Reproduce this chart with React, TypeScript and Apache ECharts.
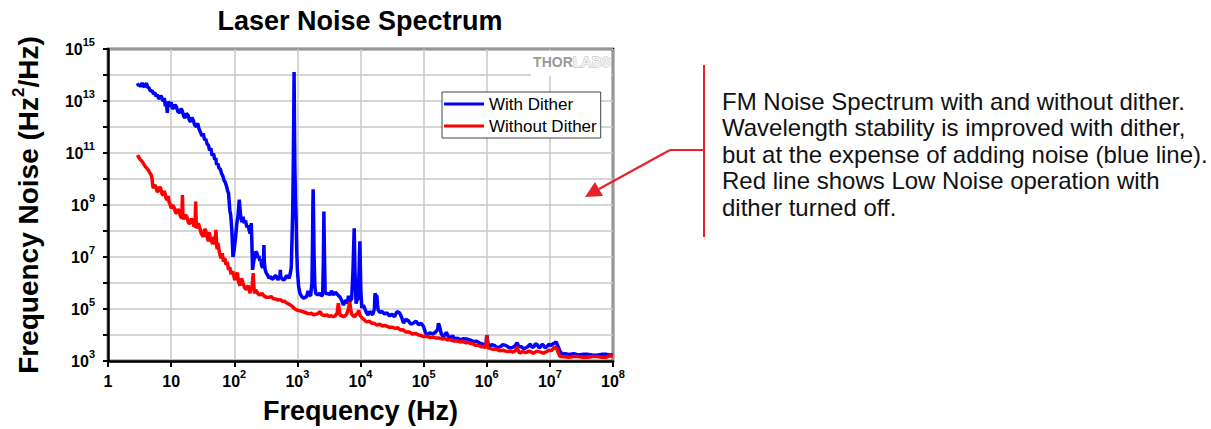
import { useEffect, useRef } from 'react';
import * as echarts from 'echarts';

const FONT = '"Liberation Sans", Arial, sans-serif';

const titleText = 'Laser Noise Spectrum';
const xAxisTitle = 'Frequency (Hz)';
const yAxisTitleParts = ['Frequency Noise (Hz', '2', '/Hz)'];
const seriesNames = ['With Dither', 'Without Dither'];
const seriesColors = ['#0000ff', '#ff0000'];
const logoParts = ['THOR', 'LABS'];
const noteLines = [
  'FM Noise Spectrum with and without dither.',
  'Wavelength stability is improved with dither,',
  'but at the expense of adding noise (blue line).',
  'Red line shows Low Noise operation with',
  'dither turned off.',
];

// [frequency (Hz), noise (Hz^2/Hz)]
const withDither: [number, number][] = [
  [2.92, 4.8e13], [3.05, 3.9e13], [3.16, 4.2e13], [3.3, 3.6e13], [3.47, 5.0e13], [3.6, 3.9e13], [3.8, 3.5e13],
  [3.95, 4.3e13], [4.07, 4.8e13], [4.25, 3.4e13], [4.47, 3.2e13], [4.7, 2.4e13], [5.0, 2.5e13], [5.25, 1.9e13],
  [5.56, 2.0e13], [5.8, 1.5e13], [6.0, 1.8e13], [6.3, 1.3e13], [6.6, 1.26e13], [6.85, 1.6e13], [7.1, 1.4e13],
  [7.3, 1.1e13], [7.5, 1.0e13], [7.8, 1.3e13], [8.1, 6.3e12], [8.4, 8.5e12], [8.7, 3.5e12], [9.0, 9.5e12],
  [9.3, 8.0e12], [9.7, 6.2e12], [10, 9.0e12], [10.5, 5.0e12], [11, 5.6e12], [11.5, 7.2e12], [12, 6.3e12],
  [12.8, 3.9e12], [13.8, 3.5e12], [14.4, 5.2e12], [15.1, 4.0e12], [15.8, 2.6e12], [16.6, 2.2e12], [17.5, 3.3e12],
  [18.6, 2.8e12], [19.5, 1.8e12], [20.4, 1.6e12], [21.4, 2.3e12], [22.4, 1.8e12], [23.6, 1.2e12], [25.1, 1.0e12],
  [26.3, 1.4e12], [27.5, 8.9e11], [29, 6.5e11], [30.9, 4.5e11], [32.3, 5.6e11], [33.9, 3.2e11], [35.5, 3.4e11],
  [37.2, 2.2e11], [39, 2.0e11], [40.7, 1.26e11], [42.5, 1.5e11], [44.7, 7.9e10], [47, 9.5e10], [49, 5.6e10],
  [51, 6.5e10], [52.5, 3.5e10], [55, 4.0e10], [57.5, 2.5e10], [60, 2.5e10], [63, 1.6e10], [66, 1.3e10],
  [69, 8.9e9], [72, 7.5e9], [75.9, 5.0e9], [78.5, 3.5e9], [81.3, 2.8e9], [85, 6.3e8], [88, 4.0e8],
  [91.2, 1.26e8], [95.5, 1.0e7], [100, 2.0e7], [105, 6.0e7], [110, 2.0e8], [115, 4.0e8], [120, 1.6e9],
  [126, 4.0e8], [132, 2.2e8], [138, 3.5e8], [144, 2.0e8], [151, 2.5e8], [158, 1.4e8], [166, 1.6e8],
  [172, 1.1e8], [178, 8.0e7], [182, 1.2e8], [186, 2.0e8], [190, 4.0e7], [195, 3.2e6], [202, 6.0e6],
  [209, 1.0e7], [219, 1.6e7], [229, 1.4e7], [237, 9.0e6], [245, 1.1e7], [254, 7.0e6], [263, 8.0e6],
  [272, 4.5e6], [282, 4.0e6], [290, 6.0e6], [295, 2.9e7], [300, 6.0e6], [309, 3.2e6], [322, 2.4e6],
  [339, 2.0e6], [355, 1.5e6], [372, 1.8e6], [395, 1.4e6], [417, 1.5e6], [440, 1.9e6], [468, 1.8e6],
  [490, 1.3e6], [513, 1.6e6], [527, 1.5e6], [537, 3.2e6], [548, 1.4e6], [562, 1.6e6], [595, 1.3e6],
  [631, 1.4e6], [670, 1.9e6], [708, 1.8e6], [740, 1.5e6], [776, 2.5e6], [800, 4.0e6], [822, 4.5e7],
  [845, 8.0e8], [861, 3.2e10], [875, 2.0e12], [887, 1.3e14], [898, 2.0e12], [912, 3.2e10], [930, 2.5e9],
  [955, 3.2e8], [975, 2.0e7], [1000, 3.2e6], [1047, 7.2e5], [1100, 4.0e5], [1175, 3.0e5], [1250, 2.6e5],
  [1318, 2.8e5], [1400, 3.0e5], [1479, 5.0e5], [1550, 3.5e5], [1622, 3.2e5], [1700, 1.0e6], [1738, 3.2e7],
  [1760, 1.0e9], [1778, 4.0e9], [1800, 6.0e8], [1841, 1.0e7], [1890, 8.0e5], [1950, 4.0e5], [2100, 3.5e5],
  [2291, 4.0e5], [2400, 3.2e5], [2512, 3.5e5], [2580, 6.0e6], [2630, 5.6e8], [2690, 1.0e7], [2754, 4.5e5],
  [2900, 3.8e5], [3090, 4.0e5], [3300, 3.5e5], [3467, 5.0e5], [3650, 4.0e5], [3802, 3.5e5], [4000, 4.5e5],
  [4169, 4.0e5], [4500, 3.2e5], [4786, 2.8e5], [5100, 2.0e5], [5370, 1.4e5], [5600, 1.8e5], [5888, 2.2e5],
  [6150, 1.6e5], [6457, 3.2e5], [6850, 2.0e5], [7244, 2.5e5], [7600, 3.0e6], [7943, 1.26e8], [8200, 2.0e6],
  [8511, 1.6e5], [8800, 2.2e5], [9120, 2.5e5], [9450, 2.0e6], [9772, 4.0e7], [10100, 6.0e5], [10470, 1.1e5],
  [11100, 1.4e5], [11750, 1.0e5], [12500, 7.0e4], [13180, 5.9e4], [14000, 8.0e4], [14790, 7.0e4], [15600, 6.0e4],
  [16600, 1.0e5], [16980, 4.0e5], [17500, 3.2e5], [18200, 3.2e5], [18600, 1.5e5], [19050, 9.0e4], [20300, 7.5e4],
  [21880, 8.0e4], [24000, 6.5e4], [26300, 7.0e4], [28700, 5.5e4], [31600, 6.3e4], [34500, 5.0e4], [38000, 8.0e4],
  [41700, 7.0e4], [44500, 5.0e4], [47900, 2.9e4], [52000, 4.0e4], [57500, 3.5e4], [63000, 2.6e4], [69200, 2.9e4],
  [76000, 3.4e4], [83200, 2.5e4], [91000, 2.8e4], [100000, 2.1e4], [106000, 1.3e4], [112200, 1.0e4], [125000, 1.2e4],
  [141000, 1.1e4], [155000, 1.3e4], [166000, 1.6e4], [172000, 2.8e4], [178000, 2.2e4], [184000, 1.6e4], [190500, 1.1e4],
  [204000, 8.7e3], [215000, 1.0e4], [229000, 1.26e4], [245000, 9.0e3], [263000, 8.0e3], [290000, 9.0e3], [316000, 7.0e3],
  [345000, 7.5e3], [380000, 6.5e3], [425000, 7.2e3], [479000, 7.0e3], [540000, 6.5e3], [617000, 5.6e3], [690000, 5.8e3],
  [759000, 5.0e3], [840000, 4.6e3], [933000, 4.0e3], [980000, 5.0e3], [1.0e6, 1.0e4], [1.03e6, 6.0e3], [1.07e6, 3.5e3],
  [1.2e6, 4.2e3], [1.32e6, 4.0e3], [1.45e6, 3.3e3], [1.62e6, 3.5e3], [1.8e6, 4.2e3], [2.0e6, 4.0e3], [2.25e6, 3.3e3],
  [2.5e6, 3.2e3], [2.8e6, 3.8e3], [3.02e6, 5.0e3], [3.25e6, 3.6e3], [3.55e6, 3.5e3], [3.85e6, 3.0e3], [4.17e6, 3.2e3],
  [4.5e6, 3.6e3], [4.9e6, 4.5e3], [5.2e6, 3.4e3], [5.6e6, 3.5e3], [5.9e6, 4.6e3], [6.3e6, 4.2e3], [6.7e6, 3.3e3],
  [7.1e6, 3.5e3], [7.5e6, 4.4e3], [7.9e6, 4.0e3], [8.4e6, 3.2e3], [8.9e6, 3.5e3], [9.6e6, 4.3e3], [1.05e7, 4.0e3],
  [1.12e7, 4.6e3], [1.2e7, 5.0e3], [1.26e7, 5.4e3], [1.32e7, 4.0e3], [1.38e7, 3.2e3], [1.45e7, 2.3e3], [1.58e7, 1.86e3],
  [1.75e7, 1.9e3], [2.0e7, 1.8e3], [2.4e7, 1.9e3], [2.8e7, 1.7e3], [3.3e7, 1.8e3], [4.0e7, 1.8e3], [4.7e7, 1.7e3],
  [5.6e7, 1.66e3], [6.6e7, 1.8e3], [7.9e7, 1.8e3], [9.0e7, 1.7e3], [1.0e8, 1.7e3],
];

const withoutDither: [number, number][] = [
  [2.92, 8.3e10], [3.05, 7.0e10], [3.24, 5.6e10], [3.4, 5.0e10], [3.63, 4.0e10], [3.9, 3.0e10], [4.17, 2.5e10],
  [4.4, 2.1e10], [4.64, 1.66e10], [4.85, 1.4e10], [5.0, 1.0e10], [5.1, 5.5e9], [5.25, 4.4e9], [5.5, 6.0e9],
  [5.75, 5.0e9], [6.0, 3.2e9], [6.3, 3.5e9], [6.6, 5.0e9], [6.9, 4.0e9], [7.2, 2.6e9], [7.5, 2.4e9],
  [7.8, 3.5e9], [8.1, 2.5e9], [8.4, 1.7e9], [8.7, 1.6e9], [9.0, 2.2e9], [9.3, 1.26e9], [9.6, 1.1e9],
  [10, 7.4e8], [10.6, 1.0e9], [11.2, 7.9e8], [11.7, 5.2e8], [12.3, 4.8e8], [12.9, 7.0e8], [13.5, 5.6e8],
  [14.1, 3.5e8], [14.8, 3.2e8], [15.1, 2.4e9], [15.4, 4.0e8], [15.8, 2.8e8], [16.8, 4.2e8], [17.8, 3.5e8],
  [18.9, 2.0e8], [20, 2.0e8], [21, 3.0e8], [21.9, 2.5e8], [23, 1.5e8], [24, 1.6e8], [24.5, 1.35e9],
  [25, 2.0e8], [25.7, 1.26e8], [27, 2.0e8], [28.2, 1.4e8], [30, 8.0e7], [32.4, 6.0e7], [34, 1.2e8],
  [35.5, 1.0e8], [37, 6.0e7], [38.9, 4.0e7], [40.2, 9.0e7], [41.7, 5.0e7], [43.5, 4.0e7], [45.7, 3.2e7],
  [47.5, 6.0e7], [49.5, 3.0e7], [51.3, 1.1e8], [52.5, 3.0e7], [53.7, 2.0e7], [55, 3.5e7], [56.2, 2.5e7],
  [59, 1.3e7], [61.7, 9.0e6], [64.5, 1.4e7], [67.6, 6.6e6], [71, 9.0e6], [74.1, 5.0e6], [77.5, 6.5e6],
  [81.3, 3.2e6], [85, 4.0e6], [89.1, 2.2e6], [95, 2.8e6], [102, 1.3e6], [107, 2.0e6], [112, 2.5e6],
  [117, 1.1e6], [123, 8.0e5], [130, 1.5e6], [138, 1.0e6], [146, 6.5e5], [155, 5.6e5], [165, 8.0e5],
  [178, 4.0e5], [184, 7.0e5], [190, 6.3e5], [195, 1.2e6], [200, 2.4e6], [204, 8.0e5], [209, 4.0e5],
  [219, 5.5e5], [229, 4.5e5], [243, 3.6e5], [257, 3.5e5], [275, 4.0e5], [295, 3.2e5], [325, 2.8e5],
  [355, 2.8e5], [385, 3.0e5], [417, 2.5e5], [460, 2.4e5], [501, 2.2e5], [540, 2.3e5], [575, 2.0e5],
  [625, 2.0e5], [676, 1.7e5], [750, 1.5e5], [832, 1.26e5], [915, 1.0e5], [1000, 9.0e4], [1100, 8.5e4],
  [1202, 8.0e4], [1300, 7.5e4], [1413, 7.0e4], [1530, 6.5e4], [1660, 7.0e4], [1800, 6.0e4], [1950, 6.3e4],
  [2100, 6.5e4], [2291, 8.0e4], [2450, 6.0e4], [2692, 5.6e4], [2900, 6.0e4], [3162, 5.2e4], [3450, 5.5e4],
  [3715, 5.0e4], [4000, 5.5e4], [4266, 7.0e4], [4400, 1.3e5], [4467, 1.66e5], [4600, 9.0e4], [4786, 5.6e4],
  [5100, 5.5e4], [5370, 5.0e4], [5700, 5.5e4], [6026, 6.3e4], [6400, 1.0e5], [6761, 1.8e5], [7000, 1.0e5],
  [7244, 6.3e4], [7700, 5.5e4], [8128, 5.0e4], [8500, 6.5e4], [8913, 6.3e4], [9333, 9.0e4], [9700, 6.0e4],
  [10000, 5.4e4], [10600, 4.5e4], [11220, 4.0e4], [11900, 3.5e4], [12590, 3.2e4], [13800, 3.4e4], [15140, 2.8e4],
  [16600, 2.8e4], [18200, 2.4e4], [20200, 2.6e4], [22390, 2.2e4], [25000, 2.3e4], [28180, 2.0e4], [31600, 2.0e4],
  [35480, 1.8e4], [39000, 1.9e4], [42660, 1.55e4], [47000, 1.6e4], [52480, 1.3e4], [59000, 1.3e4], [66070, 1.1e4],
  [74000, 1.15e4], [83180, 1.0e4], [91000, 9.5e3], [100000, 8.7e3], [112000, 9.0e3], [126000, 8.0e3], [141000, 8.3e3],
  [158000, 7.6e3], [178000, 7.6e3], [200000, 7.0e3], [216000, 7.3e3], [234000, 6.5e3], [262000, 6.5e3], [295000, 5.9e3],
  [335000, 6.0e3], [380000, 5.4e3], [420000, 5.6e3], [468000, 5.0e3], [510000, 5.2e3], [550000, 4.8e3], [600000, 4.6e3],
  [660000, 4.0e3], [740000, 4.0e3], [830000, 3.5e3], [900000, 3.6e3], [950000, 3.2e3], [980000, 4.5e3], [1.0e6, 1.0e4],
  [1.02e6, 5.0e3], [1.05e6, 3.2e3], [1.15e6, 3.0e3], [1.26e6, 2.8e3], [1.42e6, 2.9e3], [1.58e6, 2.5e3], [1.8e6, 2.6e3],
  [2.09e6, 2.3e3], [2.35e6, 2.4e3], [2.63e6, 2.2e3], [2.85e6, 2.5e3], [3.02e6, 3.5e3], [3.15e6, 2.6e3], [3.3e6, 2.0e3],
  [3.7e6, 2.3e3], [4.17e6, 2.1e3], [4.7e6, 2.4e3], [5.5e6, 2.0e3], [6.2e6, 2.4e3], [7.1e6, 2.2e3], [7.9e6, 2.0e3],
  [8.9e6, 2.3e3], [9.7e6, 2.6e3], [1.05e7, 2.5e3], [1.12e7, 2.9e3], [1.2e7, 3.5e3], [1.26e7, 3.2e3], [1.32e7, 2.5e3],
  [1.38e7, 1.9e3], [1.45e7, 1.5e3], [1.7e7, 1.45e3], [2.0e7, 1.4e3], [2.4e7, 1.5e3], [2.8e7, 1.5e3], [3.3e7, 1.4e3],
  [4.0e7, 1.4e3], [4.7e7, 1.5e3], [5.6e7, 1.5e3], [6.6e7, 1.4e3], [7.9e7, 1.4e3], [9.0e7, 1.6e3], [1.0e8, 1.5e3],
];

const xMin = 1;
const xMax = 1e8;
const yMin = 1e3;
const yMax = 1e15;

function powLabel(value: number): string {
  const e = Math.round(Math.log10(value));
  if (e === 0) return '{b|1}';
  if (e === 1) return '{b|10}';
  return '{b|10}{s|' + e + '}';
}

const labelRich = {
  b: { fontSize: 16, fontWeight: 'bold', fontFamily: FONT, color: '#000', lineHeight: 26 },
  s: { fontSize: 11, fontWeight: 'bold', fontFamily: FONT, color: '#000', lineHeight: 11, verticalAlign: 'top' },
};

export default function App() {
  const ref = useRef<HTMLDivElement>(null);
  useEffect(() => {
    if (!ref.current) return;
    const chart = echarts.init(ref.current, null, { renderer: 'svg' });
    chart.setOption({
      animation: false,
      backgroundColor: '#fff',
      title: {
        text: titleText,
        left: 360,
        top: 7,
        textAlign: 'center',
        padding: 0,
        textStyle: { fontSize: 27, fontWeight: 'bold', fontFamily: FONT, color: '#000' },
      },
      grid: {
        left: 108, right: 598, top: 49, bottom: 68,
        show: true, borderColor: '#000', borderWidth: 2.5, backgroundColor: 'transparent',
      },
      legend: {
        data: seriesNames,
        orient: 'vertical',
        left: 442,
        top: 92,
        icon: 'rect',
        itemWidth: 40,
        itemHeight: 3,
        itemGap: 4,
        padding: [3, 4, 3, 2],
        borderColor: '#444',
        borderWidth: 1,
        borderRadius: 0,
        backgroundColor: '#fff',
        textStyle: { fontSize: 17, fontFamily: FONT, color: '#000', lineHeight: 18 },
      },
      xAxis: {
        type: 'log',
        logBase: 10,
        min: xMin,
        max: xMax,
        splitNumber: 8,
        name: xAxisTitle,
        nameLocation: 'middle',
        nameGap: 36,
        nameTextStyle: { fontSize: 27, fontWeight: 'bold', fontFamily: FONT, color: '#000' },
        axisLine: { lineStyle: { color: '#000', width: 2.5 } },
        axisTick: { show: true, length: 6, lineStyle: { color: '#000', width: 2 } },
        minorTick: { show: false },
        axisLabel: { margin: 7, formatter: (v: number) => powLabel(v), rich: labelRich },
        splitLine: { show: true, lineStyle: { color: '#c8c8c8', width: 1.5 } },
      },
      yAxis: {
        type: 'log',
        logBase: 10,
        min: yMin,
        max: yMax,
        interval: 1,
        axisLine: { show: true, lineStyle: { color: '#000', width: 2.5 } },
        axisTick: { show: true, length: 5, lineStyle: { color: '#000', width: 2 } },
        axisLabel: {
          margin: 13,
          formatter: (v: number) => {
            const e = Math.round(Math.log10(v));
            return e % 2 === 1 ? powLabel(v) : '';
          },
          rich: labelRich,
        },
        splitLine: { show: true, lineStyle: { color: '#c8c8c8', width: 1.5 } },
      },
      series: [
        {
          name: seriesNames[0], type: 'line', data: withDither, symbol: 'none',
          lineStyle: { color: seriesColors[0], width: 3.5 }, itemStyle: { color: seriesColors[0] }, z: 3,
        },
        {
          name: seriesNames[1], type: 'line', data: withoutDither, symbol: 'none',
          lineStyle: { color: seriesColors[1], width: 3.5 }, itemStyle: { color: seriesColors[1] }, z: 4,
        },
      ],
      graphic: [
        {
          type: 'text', x: 28, y: 205, rotation: Math.PI / 2, z: 10,
          style: {
            text: '{a|' + yAxisTitleParts[0] + '}{s|' + yAxisTitleParts[1] + '}{a|' + yAxisTitleParts[2] + '}',
            align: 'center', verticalAlign: 'middle',
            rich: {
              a: { fontSize: 28, fontWeight: 'bold', fontFamily: FONT, fill: '#000', lineHeight: 36 },
              s: { fontSize: 17, fontWeight: 'bold', fontFamily: FONT, fill: '#000', lineHeight: 17, verticalAlign: 'top' },
            },
          },
        },
        { type: 'rect', z: 10, shape: { x: 531, y: 51, width: 80, height: 25 }, style: { fill: '#fff' } },
        {
          type: 'text', x: 572, y: 62, z: 11,
          style: {
            text: '{a|' + logoParts[0] + '}{b|' + logoParts[1] + '}',
            align: 'center', verticalAlign: 'middle',
            rich: {
              a: { fontSize: 14, fontWeight: 'bold', fontFamily: FONT, fill: '#9a9a9a' },
              b: { fontSize: 14, fontWeight: 'bold', fontFamily: FONT, fill: '#f4f4f4', stroke: '#b0b0b0', lineWidth: 0.8 },
            },
          },
        },
        { type: 'line', z: 10, shape: { x1: 704, y1: 65, x2: 704, y2: 237 }, style: { stroke: '#e8202a', lineWidth: 2 } },
        { type: 'line', z: 10, shape: { x1: 670, y1: 150, x2: 704, y2: 150 }, style: { stroke: '#e8202a', lineWidth: 2 } },
        { type: 'line', z: 10, shape: { x1: 670, y1: 150, x2: 599, y2: 189 }, style: { stroke: '#e8202a', lineWidth: 2 } },
        {
          type: 'polygon', z: 10,
          shape: { points: [[585, 197], [603, 196], [595, 182]] },
          style: { fill: '#e8202a' },
        },
        {
          type: 'text', x: 722, y: 88, z: 10,
          style: {
            text: noteLines.join('\n'),
            fontSize: 24, fontFamily: FONT, fill: '#111', lineHeight: 26.5,
            align: 'left', verticalAlign: 'top',
          },
        },
      ],
    });
    return () => chart.dispose();
  }, []);
  return (
    <div
      ref={ref}
      style={{ position: 'fixed', left: 0, top: 0, width: 1211, height: 429, background: '#fff' }}
    />
  );
}
